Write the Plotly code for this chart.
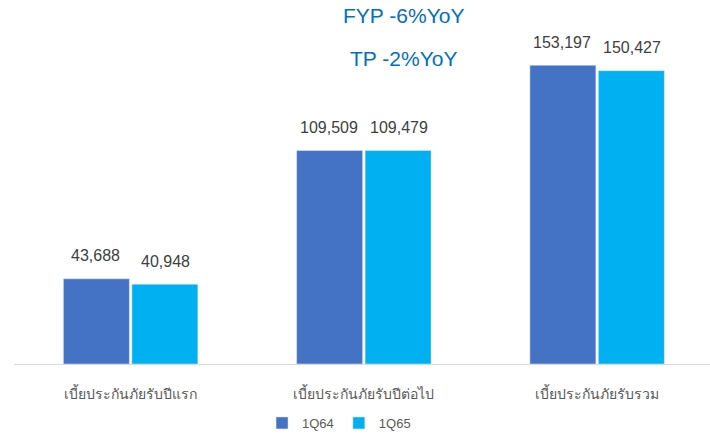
import plotly.graph_objects as go

categories = ["เบี้ยประกันภัยรับปีแรก", "เบี้ยประกันภัยรับปีต่อไป", "เบี้ยประกันภัยรับรวม"]
series_names = ["1Q64", "1Q65"]
values_1q64 = [43688, 109509, 153197]
values_1q65 = [40948, 109479, 150427]
colors = ["#4472C4", "#00B0F0"]
headline_texts = ["FYP -6%YoY", "TP -2%YoY"]

fig = go.Figure()
for name, vals, col in zip(series_names, [values_1q64, values_1q65], colors):
    fig.add_trace(go.Bar(x=categories, y=vals, name=name, marker_color=col,
                         hoverinfo="x+y+name"))

annotations = []
for i, vals in enumerate([values_1q64, values_1q65]):
    shift = -35 if i == 0 else 35
    for c, v in zip(categories, vals):
        annotations.append(dict(x=c, y=v, xref="x", yref="y", text=f"{v:,}",
                                showarrow=False, xshift=shift, yshift=23,
                                yanchor="middle",
                                font=dict(size=16, color="#404040",
                                          family="Liberation Sans, Arial")))

for txt, yp in zip(headline_texts, [0.986, 0.866]):
    annotations.append(dict(x=0.559, y=yp, xref="paper", yref="paper", text=txt,
                            showarrow=False, xanchor="center", yanchor="middle",
                            font=dict(size=21, color="#0070C0",
                                      family="Liberation Sans, Arial")))

fig.update_layout(
    width=710, height=438,
    margin=dict(l=14, r=0, t=11, b=69),
    paper_bgcolor="white", plot_bgcolor="white",
    barmode="group", bargap=0.413, bargroupgap=0.036,
    showlegend=True,
    legend=dict(orientation="h", x=0.467, xanchor="center", y=-0.168,
                yanchor="middle", font=dict(size=13, color="#595959",
                                            family="Liberation Sans, Arial"),
                itemwidth=30, traceorder="normal"),
    annotations=annotations,
    xaxis=dict(range=[-0.5, 2.484], showline=True, linecolor="#D9D9D9",
               linewidth=1, showgrid=False, zeroline=False, ticks="",
               ticklabelstandoff=17,
               tickfont=dict(size=14, color="#595959",
                             family="Liberation Sans, Arial")),
    yaxis=dict(range=[0, 181000], visible=False, showgrid=False, zeroline=False),
)

fig.write_html("out.html", config={"displayModeBar": False},
               post_script="document.body.style.margin='0';document.body.style.overflow='hidden';")
